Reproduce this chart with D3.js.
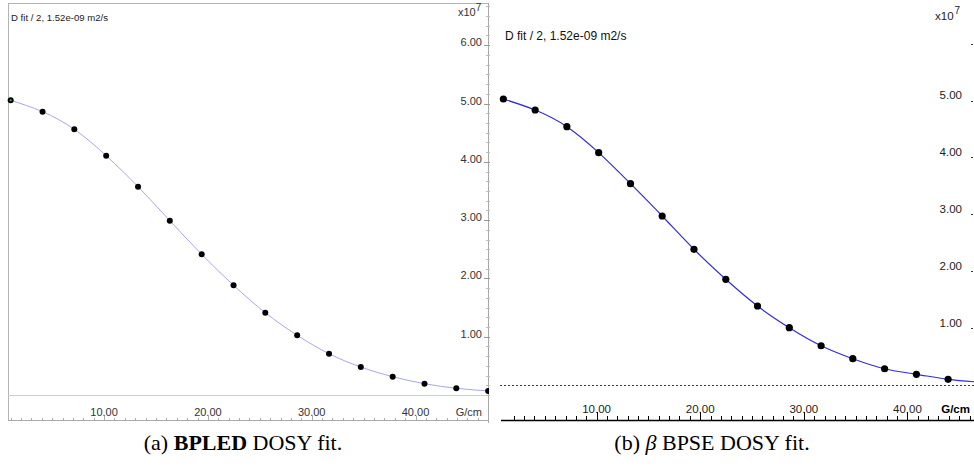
<!DOCTYPE html>
<html>
<head>
<meta charset="utf-8">
<script src="https://cdn.jsdelivr.net/npm/d3@7/dist/d3.min.js"></script>
<style>
  html, body { margin: 0; padding: 0; background: #fff; }
  svg { display: block; }
</style>
</head>
<body>
<svg id="chart" width="974" height="470"></svg>
<script>
// Gradient strengths (G/cm) of the diffusion series, shared by both experiments
const gradient = [1.00, 4.07, 7.13, 10.20, 13.27, 16.33, 19.40, 22.47, 25.53, 28.60, 31.67, 34.73, 37.80, 40.87, 43.93, 47.00];
// Signal intensity (x10^7) for the BPLED sequence
const bpledIntensity = [5.055, 4.86, 4.557, 4.105, 3.573, 2.99, 2.413, 1.882, 1.412, 1.024, 0.708, 0.48, 0.314, 0.194, 0.115, 0.069];
// Signal intensity (x10^7) for the beta BPSE sequence
const bpseIntensity = [5.026, 4.833, 4.54, 4.083, 3.538, 2.97, 2.385, 1.858, 1.388, 1.007, 0.69, 0.462, 0.286, 0.188, 0.10, 0.05];
// Axis tick labels
const xTickValues = [10, 20, 30, 40];
const yTickValues = [1, 2, 3, 4, 5, 6];
const fitLabel = "D fit / 2,  1.52e-09 m2/s";
const xUnit = "G/cm";

const svg = d3.select("#chart");
const fmt = d3.format(".2f");

// ---------------- Panel (a): BPLED ----------------
(function () {
  const g = svg.append("g");
  const x = d3.scaleLinear().domain([0, 10]).range([0.3, 104.1]);
  const y = d3.scaleLinear().domain([0, 1]).range([395, 336.7]);
  const left = 8, right = 488, top = 3, bottom = 420;
  const sans = "Liberation Sans, Arial, sans-serif";

  g.append("clipPath").attr("id", "clipA")
    .append("rect").attr("x", left).attr("y", top).attr("width", right - left).attr("height", bottom - top);

  // frame
  g.append("line").attr("x1", left).attr("x2", right).attr("y1", top + 0.5).attr("y2", top + 0.5)
    .attr("stroke", "#b4b4b4");
  g.append("line").attr("x1", left + 0.5).attr("x2", left + 0.5).attr("y1", top).attr("y2", bottom)
    .attr("stroke", "#b4b4b4");

  // baseline
  g.append("line").attr("x1", left).attr("x2", right).attr("y1", y(0) + 0.5).attr("y2", y(0) + 0.5)
    .attr("stroke", "#c9c9f2");

  // x axis
  const xAxis = g.append("g");
  xAxis.append("line").attr("x1", left).attr("x2", right).attr("y1", bottom + 0.5).attr("y2", bottom + 0.5)
    .attr("stroke", "#a8a8a8");
  const minorX = d3.range(1, 47).filter(v => x(v) > left && x(v) < right);
  xAxis.selectAll("line.minor").data(minorX).join("line")
    .attr("x1", d => Math.round(x(d)) + 0.5).attr("x2", d => Math.round(x(d)) + 0.5)
    .attr("y1", d => d % 10 === 0 ? bottom - 4 : bottom - 2).attr("y2", bottom + 1)
    .attr("stroke", "#a8a8a8");
  xAxis.selectAll("text.tick").data(xTickValues).join("text")
    .attr("x", d => x(d)).attr("y", 415.5)
    .attr("text-anchor", "middle").attr("font-family", sans).attr("font-size", 11).attr("fill", "#333")
    .text(d => fmt(d));
  xAxis.append("text").attr("x", 482).attr("y", 415.5).attr("text-anchor", "end")
    .attr("font-family", sans).attr("font-size", 11).attr("fill", "#333").text(xUnit);

  // y axis on the right
  const yAxis = g.append("g");
  yAxis.append("line").attr("x1", right + 0.5).attr("x2", right + 0.5).attr("y1", top).attr("y2", bottom + 3)
    .attr("stroke", "#a8a8a8");
  const minorY = d3.range(0, 6.75, 1 / 6).filter(v => y(v) > top && y(v) < bottom);
  yAxis.selectAll("line.minor").data(minorY).join("line")
    .attr("x1", right - 2).attr("x2", right + 2)
    .attr("y1", d => Math.round(y(d)) + 0.5).attr("y2", d => Math.round(y(d)) + 0.5)
    .attr("stroke", "#bdbdbd");
  yAxis.selectAll("line.major").data(yTickValues).join("line")
    .attr("x1", right - 4).attr("x2", right + 2)
    .attr("y1", d => Math.round(y(d)) + 0.5).attr("y2", d => Math.round(y(d)) + 0.5)
    .attr("stroke", "#999");
  yAxis.selectAll("text.tick").data(yTickValues).join("text")
    .attr("x", 482).attr("y", d => y(d) + 1)
    .attr("text-anchor", "end").attr("font-family", sans).attr("font-size", 11).attr("fill", "#333")
    .text(d => fmt(d));
  const mag = yAxis.append("text").attr("x", 458).attr("y", 16)
    .attr("font-family", sans).attr("font-size", 11).attr("fill", "#333");
  mag.append("tspan").text("x10");
  mag.append("tspan").attr("dy", -5).attr("font-size", 10).text("7");

  // annotation
  g.append("text").attr("x", 11).attr("y", 21)
    .attr("font-family", sans).attr("font-size", 9.6).attr("fill", "#222").text(fitLabel);

  const pts = gradient.map((G, i) => [G, bpledIntensity[i]]);
  const plot = g.append("g").attr("clip-path", "url(#clipA)");
  plot.append("path").datum(pts)
    .attr("d", d3.line().x(d => x(d[0])).y(d => y(d[1])).curve(d3.curveNatural))
    .attr("fill", "none").attr("stroke", "#a7a7ee").attr("stroke-width", 1);

  const ptsG = g.append("g").attr("clip-path", "url(#clipPtsA)");
  g.append("clipPath").attr("id", "clipPtsA")
    .append("rect").attr("x", 0).attr("y", 0).attr("width", right + 1).attr("height", bottom);
  ptsG.selectAll("circle").data(pts).join("circle")
    .attr("cx", d => x(d[0])).attr("cy", d => y(d[1])).attr("r", 3)
    .attr("fill", "#000");
  ptsG.append("circle").datum(pts[0])
    .attr("cx", d => x(d[0])).attr("cy", d => y(d[1])).attr("r", 1.1).attr("fill", "#2bbd2b");
})();

// ---------------- Panel (b): beta BPSE ----------------
(function () {
  const g = svg.append("g");
  const x = d3.scaleLinear().domain([0, 10]).range([493, 596.6]);
  const y = d3.scaleLinear().domain([0, 1]).range([385, 328.1]);
  const left = 492, right = 974, axisY = 420;
  const pix = "Liberation Sans, Arial, sans-serif";

  g.append("clipPath").attr("id", "clipB")
    .append("rect").attr("x", left).attr("y", 0).attr("width", right - left).attr("height", axisY);

  // dotted baseline
  g.append("line").attr("x1", 500).attr("x2", right).attr("y1", y(0) + 0.5).attr("y2", y(0) + 0.5)
    .attr("stroke", "#2a2ae0").attr("stroke-dasharray", "2,2");

  // x axis
  const xAxis = g.append("g");
  xAxis.append("line").attr("x1", 501).attr("x2", right).attr("y1", axisY + 0.5).attr("y2", axisY + 0.5)
    .attr("stroke", "#000").attr("stroke-width", 1.4);
  const minorX = d3.range(2, 47).filter(v => x(v) < right);
  xAxis.selectAll("line.minor").data(minorX).join("line")
    .attr("x1", d => Math.round(x(d)) + 0.5).attr("x2", d => Math.round(x(d)) + 0.5)
    .attr("y1", d => d % 10 === 0 ? axisY - 8 : axisY - 4).attr("y2", axisY)
    .attr("stroke", "#000");
  xAxis.selectAll("text.tick").data(xTickValues).join("text")
    .attr("x", d => x(d)).attr("y", 413)
    .attr("text-anchor", "middle").attr("font-family", pix).attr("font-size", 11.5).attr("fill", "#222")
    .text(d => fmt(d));
  xAxis.append("text").attr("x", 970).attr("y", 413).attr("text-anchor", "end")
    .attr("font-family", pix).attr("font-size", 11.5).attr("font-weight", "bold").attr("fill", "#000").text(xUnit);

  // y axis on the right edge
  const yAxis = g.append("g");
  yAxis.selectAll("line.major").data(yTickValues).join("line")
    .attr("x1", 971).attr("x2", 973)
    .attr("y1", d => Math.round(y(d)) + 0.5).attr("y2", d => Math.round(y(d)) + 0.5)
    .attr("stroke", "#333");
  yAxis.selectAll("text.tick").data(yTickValues.filter(v => v < 6)).join("text")
    .attr("x", 962).attr("y", d => y(d) - 1.5)
    .attr("text-anchor", "end").attr("font-family", pix).attr("font-size", 11.5).attr("fill", "#222")
    .text(d => fmt(d));
  const mag = yAxis.append("text").attr("x", 935).attr("y", 20)
    .attr("font-family", pix).attr("font-size", 11.5).attr("fill", "#222");
  mag.append("tspan").text("x10");
  mag.append("tspan").attr("dx", 1).attr("dy", -6).attr("font-size", 10).text("7");

  // annotation
  g.append("text").attr("x", 505).attr("y", 40)
    .attr("font-family", pix).attr("font-size", 12).attr("fill", "#111").text(fitLabel);

  const pts = gradient.map((G, i) => [G, bpseIntensity[i]]);
  const plot = g.append("g").attr("clip-path", "url(#clipB)");
  plot.append("path").datum(pts)
    .attr("d", d3.line().x(d => x(d[0])).y(d => y(d[1])).curve(d3.curveNatural))
    .attr("fill", "none").attr("stroke", "#2f2fd6").attr("stroke-width", 1.2);
  plot.selectAll("circle").data(pts).join("circle")
    .attr("cx", d => x(d[0])).attr("cy", d => y(d[1])).attr("r", 3.6)
    .attr("fill", "#000");
})();

// ---------------- Sub-captions ----------------
const serif = "Liberation Serif, Times New Roman, serif";
const capA = svg.append("text").attr("x", 243).attr("y", 450).attr("text-anchor", "middle")
  .attr("font-family", serif).attr("font-size", 22).attr("fill", "#000");
capA.append("tspan").text("(a) ");
capA.append("tspan").attr("font-weight", "bold").text("BPLED");
capA.append("tspan").text(" DOSY fit.");

const capB = svg.append("text").attr("x", 712).attr("y", 450).attr("text-anchor", "middle")
  .attr("font-family", serif).attr("font-size", 22).attr("fill", "#000");
capB.append("tspan").text("(b) ");
capB.append("tspan").attr("font-style", "italic").text("β");
capB.append("tspan").text(" BPSE DOSY fit.");
</script>
</body>
</html>
